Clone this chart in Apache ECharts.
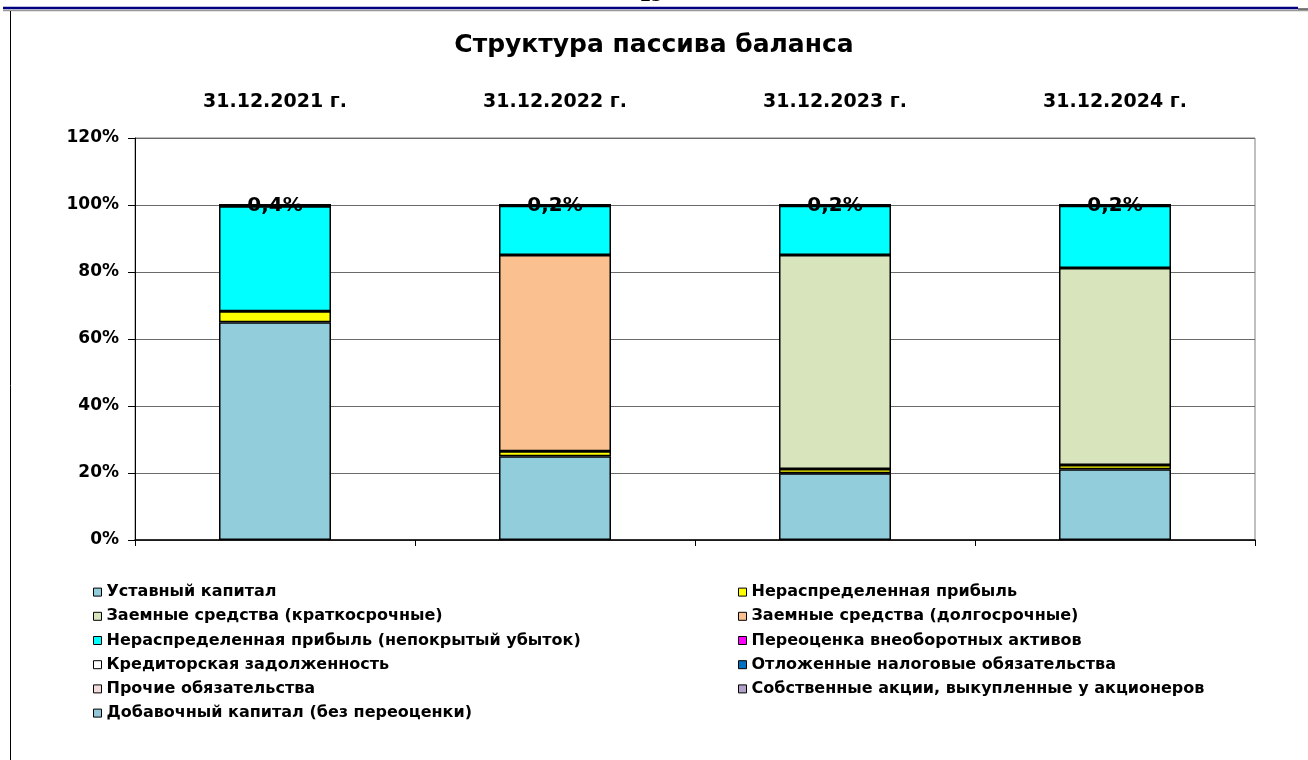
<!DOCTYPE html>
<html>
<head>
<meta charset="utf-8">
<script src="https://cdn.jsdelivr.net/npm/echarts@6/dist/echarts.min.js"></script>
<style>
html,body{margin:0;padding:0;background:#fff;}
#chart{width:1308px;height:760px;}
</style>
</head>
<body>
<div id="chart"></div>
<script>
const categories = ['31.12.2021 г.', '31.12.2022 г.', '31.12.2023 г.', '31.12.2024 г.'];
const yTicks = [0, 20, 40, 60, 80, 100, 120];

const seriesNames = [
  'Уставный капитал',
  'Нераспределенная прибыль',
  'Заемные средства (краткосрочные)',
  'Заемные средства (долгосрочные)',
  'Нераспределенная прибыль (непокрытый убыток)',
  'Переоценка внеоборотных активов',
  'Кредиторская задолженность',
  'Отложенные налоговые обязательства',
  'Прочие обязательства',
  'Собственные акции, выкупленные у акционеров',
  'Добавочный капитал (без переоценки)'
];
const seriesColors = ['#92CDDC', '#FFFF00', '#D8E4BC', '#FAC090', '#00FFFF', '#FF00FF', '#FFFFFF', '#0070C0', '#F2DCDB', '#B3A2C7', '#93C6D8'];

const ustavnyi      = [65.0, 25.0, 19.9, 21.1];
const neraspr       = [3.3, 1.5, 1.3, 1.3];
const zaemKratk     = [0, 0, 63.9, 58.8];
const zaemDolg      = [0, 58.6, 0, 0];
const nerasprUbytok = [31.3, 14.7, 14.7, 18.6];
const pereocenka    = [0, 0, 0, 0];
const kreditor      = [0.4, 0.2, 0.2, 0.2];
const otlozh        = [0, 0, 0, 0];
const prochie       = [0, 0, 0, 0];
const sobstvAkcii   = [0, 0, 0, 0];
const dobavochnyi   = [0, 0, 0, 0];

const seriesValues = [ustavnyi, neraspr, zaemKratk, zaemDolg, nerasprUbytok, pereocenka, kreditor, otlozh, prochie, sobstvAkcii, dobavochnyi];
const labeledSeries = 6;

const font = '"DejaVu Sans", "Liberation Sans", Arial, sans-serif';
const chart = echarts.init(document.getElementById('chart'));

const series = seriesNames.map((name, i) => ({
  name: name,
  type: 'bar',
  stack: 'total',
  barWidth: '40%',
  data: seriesValues[i],
  xAxisIndex: 0,
  itemStyle: { color: seriesColors[i], borderColor: '#000', borderWidth: 1.5 },
  emphasis: { disabled: true },
  label: i === labeledSeries ? {
    show: true,
    position: 'inside',
    color: '#000',
    fontFamily: font,
    fontWeight: 'bold',
    fontSize: 20,
    formatter: p => p.value.toFixed(1).replace('.', ',') + '%'
  } : { show: false }
}));

const leftNames = seriesNames.filter((_, i) => i % 2 === 0);
const rightNames = seriesNames.filter((_, i) => i % 2 === 1);

const legendCommon = {
  orient: 'vertical',
  itemWidth: 8,
  itemHeight: 8,
  itemGap: 8,
  icon: 'rect',
  itemStyle: { borderColor: '#000', borderWidth: 1 },
  textStyle: { color: '#000', fontFamily: font, fontWeight: 'bold', fontSize: 16, lineHeight: 16.2 },
  selectedMode: false
};

chart.setOption({
  animation: false,
  title: {
    text: 'Структура пассива баланса',
    left: 'center',
    top: 28,
    textStyle: { color: '#000', fontFamily: font, fontWeight: 'bold', fontSize: 25 }
  },
  legend: [
    Object.assign({}, legendCommon, { left: 88, top: 579, data: leftNames }),
    Object.assign({}, legendCommon, { left: 733, top: 579, data: rightNames })
  ],
  grid: {
    left: 135, right: 53, top: 138, bottom: 220,
    show: true, borderColor: '#808080', borderWidth: 1
  },
  xAxis: [
    {
      type: 'category',
      data: categories,
      position: 'bottom',
      axisLine: { lineStyle: { color: '#000', width: 1.5 } },
      axisTick: { show: true, length: 6, lineStyle: { color: '#000' } },
      axisLabel: { show: false }
    },
    {
      type: 'category',
      data: categories,
      position: 'top',
      axisLine: { show: false },
      axisTick: { show: false },
      axisLabel: { show: true, margin: 26, color: '#000', fontFamily: font, fontWeight: 'bold', fontSize: 19 }
    }
  ],
  yAxis: {
    type: 'value',
    min: yTicks[0],
    max: yTicks[yTicks.length - 1],
    interval: yTicks[1] - yTicks[0],
    axisLine: { show: true, lineStyle: { color: '#000', width: 1 } },
    axisTick: { show: true, length: 7, lineStyle: { color: '#000' } },
    axisLabel: { margin: 16, color: '#000', fontFamily: font, fontWeight: 'bold', fontSize: 17, formatter: '{value}%' },
    splitLine: { lineStyle: { color: '#6a6a6a', width: 1.2 } }
  },
  graphic: [
    { type: 'line', shape: { x1: 3, y1: 8, x2: 1298, y2: 8 }, style: { stroke: '#000080', lineWidth: 2.5 }, silent: true },
    { type: 'line', shape: { x1: 3, y1: 10.5, x2: 1308, y2: 10.5 }, style: { stroke: '#999', lineWidth: 1.5 }, silent: true },
    { type: 'line', shape: { x1: 1298, y1: 9, x2: 1308, y2: 9 }, style: { stroke: '#000', lineWidth: 1 }, silent: true },
    { type: 'line', shape: { x1: 10.5, y1: 11, x2: 10.5, y2: 760 }, style: { stroke: '#000', lineWidth: 1 }, silent: true },
    { type: 'text', left: 640, top: -11, style: { text: '23', fill: '#000', font: 'bold 16px ' + font }, silent: true }
  ],
  series: series
});
</script>
</body>
</html>
